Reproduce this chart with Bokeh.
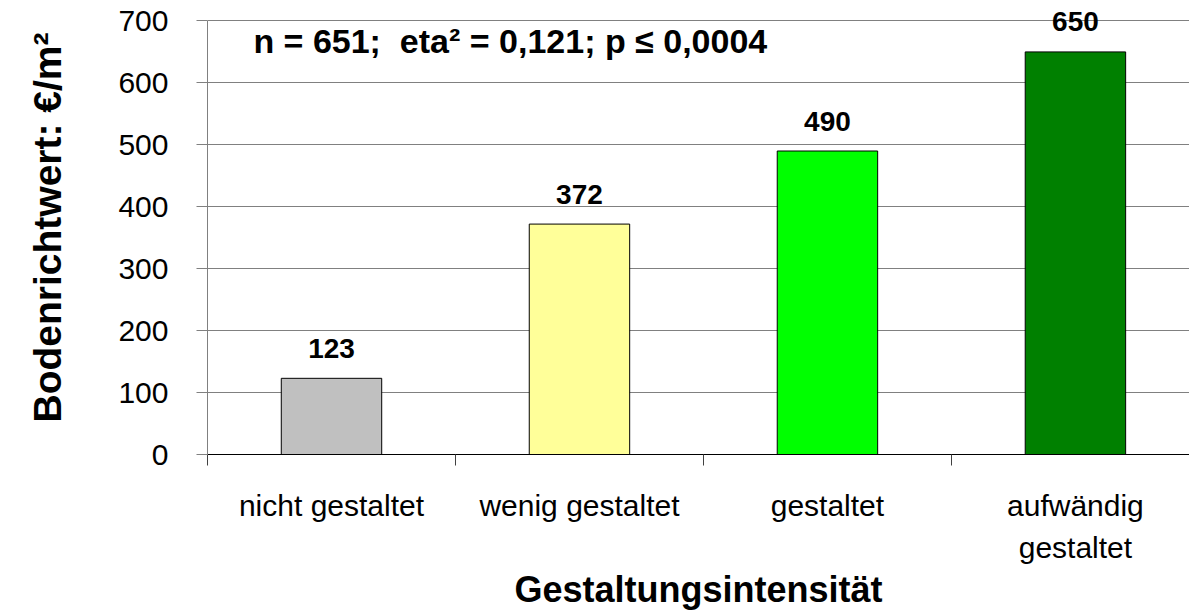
from bokeh.plotting import figure
from bokeh.models import Range1d, FixedTicker, Label, ColumnDataSource
from bokeh.core.properties import value
from bokeh.embed import file_html
from bokeh.resources import INLINE

categories = ["nicht gestaltet", "wenig gestaltet", "gestaltet", "aufwändig\ngestaltet"]
values = [123, 372, 490, 650]
colors = ["#C0C0C0", "#FFFF99", "#00FF00", "#008000"]
y_ticks = [0, 100, 200, 300, 400, 500, 600, 700]
annotation = "n = 651;\u00a0\u00a0eta² = 0,121; p ≤ 0,0004"
y_title = "Bodenrichtwert: €/m²"
x_title = "Gestaltungsintensität"

FONT = "Liberation Sans"
positions = list(range(1, len(categories) + 1))

src = ColumnDataSource(dict(x=positions, top=values, color=colors,
                            label=[str(v) for v in values]))

p = figure(width=1189, height=613, output_backend="svg", toolbar_location=None,
           x_range=Range1d(0.5, 4.46), y_range=Range1d(0, 733),
           min_border_left=207, min_border_right=0, min_border_top=0,
           min_border_bottom=157)
p.outline_line_color = None
p.background_fill_color = "white"
p.border_fill_color = "white"

p.vbar(x="x", top="top", width=0.405, bottom=0, source=src,
       fill_color="color", line_color="black", line_width=1)

p.text(x="x", y="top", text="label", source=src, text_align="center",
       text_baseline="alphabetic", y_offset=-30,
       text_font=value(FONT), text_font_style="bold", text_font_size="28px",
       text_color="black")

# y axis
p.yaxis.ticker = FixedTicker(ticks=y_ticks)
p.yaxis.bounds = (0, 700)
p.yaxis.axis_label = y_title
p.yaxis.axis_label_text_font = FONT
p.yaxis.axis_label_text_font_style = "bold"
p.yaxis.axis_label_text_font_size = "39px"
p.yaxis.axis_label_text_color = "black"
p.yaxis.axis_label_standoff = 46
p.yaxis.major_label_text_font = FONT
p.yaxis.major_label_text_font_size = "30px"
p.yaxis.major_label_text_color = "black"
p.yaxis.major_label_standoff = 28
p.yaxis.major_tick_out = 11
p.yaxis.major_tick_in = 0
p.yaxis.minor_tick_line_color = None
p.yaxis.axis_line_color = "#808080"
p.yaxis.major_tick_line_color = "#808080"

# x axis
p.xaxis.ticker = FixedTicker(ticks=positions, minor_ticks=[0.5, 1.5, 2.5, 3.5])
p.xaxis.major_label_overrides = {i: c for i, c in zip(positions, categories)}
p.xaxis.major_tick_line_color = None
p.xaxis.major_tick_out = 0
p.xaxis.major_tick_in = 0
p.xaxis.minor_tick_out = 11
p.xaxis.minor_tick_in = 0
p.xaxis.minor_tick_line_color = "#404040"
p.xaxis.axis_line_color = "black"
p.xaxis.major_label_text_font = FONT
p.xaxis.major_label_text_font_size = "30px"
p.xaxis.major_label_text_color = "black"
p.xaxis.major_label_text_line_height = 1.3
p.xaxis.major_label_standoff = 23
p.xaxis.axis_label = x_title
p.xaxis.axis_label_text_font = FONT
p.xaxis.axis_label_text_font_style = "bold"
p.xaxis.axis_label_text_font_size = "36px"
p.xaxis.axis_label_text_color = "black"
p.xaxis.axis_label_standoff = 2

p.xgrid.grid_line_color = None
p.ygrid.grid_line_color = "#808080"
p.ygrid.grid_line_width = 1

p.add_layout(Label(x=0.685, y=667, text=annotation, text_baseline="middle",
                   text_align="left", text_font=FONT, text_font_style="bold",
                   text_font_size="34px", text_color="black"))

open("out.html", "w").write(file_html(p, INLINE))
